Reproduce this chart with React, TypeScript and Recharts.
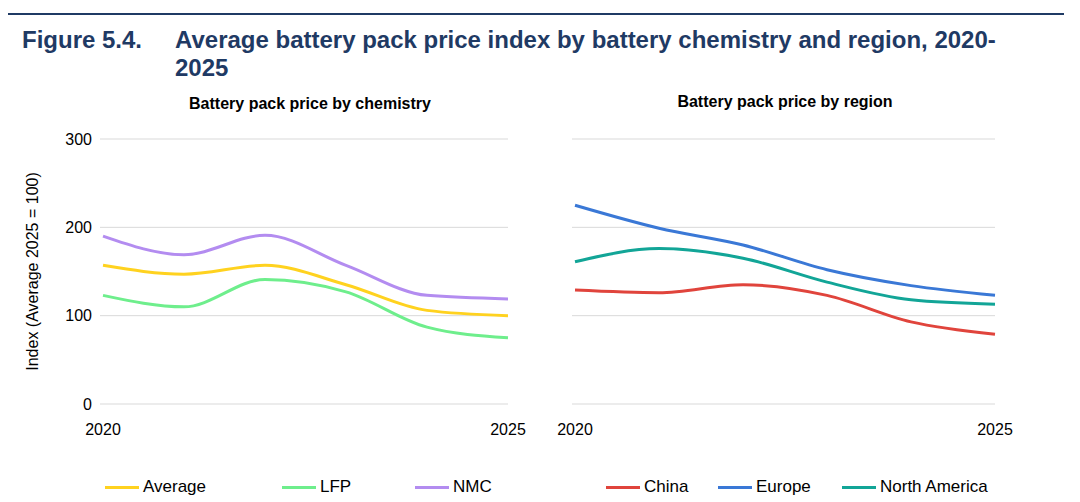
import React from 'react'
import { LineChart, Line, XAxis, YAxis, CartesianGrid, Label } from 'recharts'

const years = [2020, 2021, 2022, 2023, 2024, 2025]
const yTicks = [0, 100, 200, 300]

// chemistry
const average = [157, 147, 157, 135, 106, 100]
const lfp = [123, 110, 141, 127, 87, 75]
const nmc = [190, 169, 191, 157, 123, 119]

// region
const china = [129, 126, 135, 123, 93, 79]
const europe = [225, 199, 180, 152, 134, 123]
const northAmerica = [161, 176, 165, 138, 118, 113]

const FONT = '"Liberation Sans", Arial, sans-serif'
const NAVY = '#1F3A64'

const chemSeries = [
  { key: 'average', name: 'Average', color: '#FFD21F', values: average },
  { key: 'lfp', name: 'LFP', color: '#6EEE8C', values: lfp },
  { key: 'nmc', name: 'NMC', color: '#B38CF0', values: nmc },
]
const regionSeries = [
  { key: 'china', name: 'China', color: '#E0443C', values: china },
  { key: 'europe', name: 'Europe', color: '#3A78D6', values: europe },
  { key: 'na', name: 'North America', color: '#12A597', values: northAmerica },
]

type S = typeof chemSeries

const toRows = (series: S) =>
  years.map((year, i) => {
    const row: Record<string, number> = { year }
    series.forEach((s) => (row[s.key] = s.values[i]))
    return row
  })

const tick = { fontSize: 16, fill: '#000', fontFamily: FONT }

function Panel({ series, left, width, showY }: { series: S; left: number; width: number; showY: boolean }) {
  return (
    <div style={{ position: 'absolute', left, top: 90 }}>
      <LineChart width={width} height={350} data={toRows(series)} margin={{ top: 49, right: 22, bottom: 0, left: showY ? 0 : 15 }}>
        <CartesianGrid vertical={false} stroke="#D9D9D9" />
        <XAxis
          dataKey="year"
          type="number"
          domain={[2020, 2025]}
          ticks={[2020, 2025]}
          tick={tick}
          axisLine={false}
          tickLine={false}
          height={36}
          tickMargin={14}
          padding={{ left: 3, right: 0 }}
        />
        <YAxis
          hide={!showY}
          domain={[0, 300]}
          ticks={yTicks}
          tick={tick}
          axisLine={false}
          tickLine={false}
          width={100}
        >
          {showY && (
            <Label
              value="Index (Average 2025 = 100)"
              angle={-90}
              position="insideLeft"
              offset={32}
              style={{ textAnchor: 'middle', fontSize: 16, fill: '#000', fontFamily: FONT }}
            />
          )}
        </YAxis>
        {series.map((s) => (
          <Line key={s.key} type="monotone" dataKey={s.key} stroke={s.color} strokeWidth={3} dot={false} isAnimationActive={false} />
        ))}
      </LineChart>
    </div>
  )
}

function LegendRow({ series, positions }: { series: S; positions: number[] }) {
  return (
    <>
      {series.map((s, i) => (
        <div key={s.key} style={{ position: 'absolute', left: positions[i], top: 477, display: 'flex', alignItems: 'center', fontSize: 17, fontFamily: FONT }}>
          <span style={{ width: 34, height: 3, background: s.color, marginRight: 4 }} />
          {s.name}
        </div>
      ))}
    </>
  )
}

export default function App() {
  return (
    <div style={{ position: 'absolute', left: 0, top: 0, width: 1080, height: 502, background: '#fff', fontFamily: FONT }}>
      <div style={{ position: 'absolute', left: 8, top: 13, width: 1056, height: 2, background: NAVY }} />
      <div style={{ position: 'absolute', left: 22, top: 26, fontSize: 24, lineHeight: '28px', fontWeight: 'bold', color: NAVY }}>Figure 5.4.</div>
      <div style={{ position: 'absolute', left: 175, top: 26, width: 870, fontSize: 24, fontWeight: 'bold', color: NAVY, lineHeight: '28px' }}>
        Average battery pack price index by battery chemistry and region, 2020-2025
      </div>
      <div style={{ position: 'absolute', left: 100, width: 420, top: 95, textAlign: 'center', fontSize: 16, fontWeight: 'bold' }}>
        Battery pack price by chemistry
      </div>
      <div style={{ position: 'absolute', left: 575, width: 420, top: 93, textAlign: 'center', fontSize: 16, fontWeight: 'bold' }}>
        Battery pack price by region
      </div>
      <Panel series={chemSeries} left={0} width={530} showY />
      <Panel series={regionSeries} left={557} width={460} showY={false} />
      <LegendRow series={chemSeries} positions={[105, 282, 415]} />
      <LegendRow series={regionSeries} positions={[606, 718, 842]} />
    </div>
  )
}
